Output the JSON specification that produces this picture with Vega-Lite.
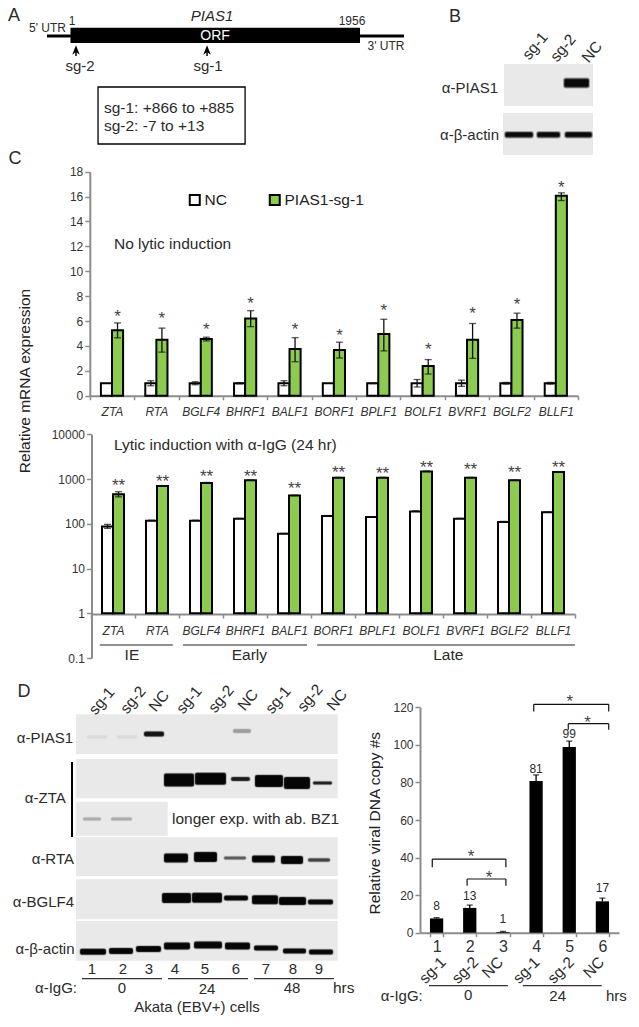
{
"$schema":"https://vega.github.io/schema/vega-lite/v6.json",
"background":"white","padding":0,"autosize":{"type":"none"},"width":639,"height":1027,
"config":{"font":"Liberation Sans","view":{"stroke":null},"text":{"color":"#2b2b2b"},"axis":{"grid":false,"domainColor":"#8c8c8c","domainWidth":2,"tickColor":"#8c8c8c","tickWidth":1.5,"labelColor":"#333333","labelFontSize":12,"titleColor":"#222222","titleFontWeight":"normal"}},
"datasets":{
"top":[
{"gene":"ZTA","series":"NC","value":1,"lo":1,"hi":1},{"gene":"ZTA","series":"PIAS1-sg-1","value":5.25,"lo":4.65,"hi":5.85,"star":6.62,"sig":"*"},
{"gene":"RTA","series":"NC","value":1,"lo":0.8,"hi":1.2},{"gene":"RTA","series":"PIAS1-sg-1","value":4.5,"lo":3.5,"hi":5.43,"star":6.49,"sig":"*"},
{"gene":"BGLF4","series":"NC","value":1,"lo":0.88,"hi":1.12},{"gene":"BGLF4","series":"PIAS1-sg-1","value":4.55,"lo":4.4,"hi":4.7,"star":5.63,"sig":"*"},
{"gene":"BHRF1","series":"NC","value":1,"lo":0.95,"hi":1.05},{"gene":"BHRF1","series":"PIAS1-sg-1","value":6.2,"lo":5.55,"hi":6.83,"star":7.69,"sig":"*"},
{"gene":"BALF1","series":"NC","value":1,"lo":0.8,"hi":1.2},{"gene":"BALF1","series":"PIAS1-sg-1","value":3.75,"lo":2.73,"hi":4.66,"star":5.6,"sig":"*"},
{"gene":"BORF1","series":"NC","value":1,"lo":1,"hi":1},{"gene":"BORF1","series":"PIAS1-sg-1","value":3.67,"lo":3.03,"hi":4.3,"star":5.15,"sig":"*"},
{"gene":"BPLF1","series":"NC","value":1,"lo":0.97,"hi":1.03},{"gene":"BPLF1","series":"PIAS1-sg-1","value":4.96,"lo":3.6,"hi":6.14,"star":7.13,"sig":"*"},
{"gene":"BOLF1","series":"NC","value":1,"lo":0.7,"hi":1.3},{"gene":"BOLF1","series":"PIAS1-sg-1","value":2.39,"lo":1.74,"hi":2.9,"star":4.02,"sig":"*"},
{"gene":"BVRF1","series":"NC","value":1,"lo":0.75,"hi":1.25},{"gene":"BVRF1","series":"PIAS1-sg-1","value":4.5,"lo":3.0,"hi":5.8,"star":6.9,"sig":"*"},
{"gene":"BGLF2","series":"NC","value":1,"lo":0.93,"hi":1.07},{"gene":"BGLF2","series":"PIAS1-sg-1","value":6.08,"lo":5.43,"hi":6.63,"star":7.61,"sig":"*"},
{"gene":"BLLF1","series":"NC","value":1,"lo":0.93,"hi":1.07},{"gene":"BLLF1","series":"PIAS1-sg-1","value":16.07,"lo":15.68,"hi":16.3,"star":17.0,"sig":"*"}],
"bottom":[
{"gene":"ZTA","series":"NC","value":87,"lo":79,"hi":97},{"gene":"ZTA","series":"PIAS1-sg-1","value":457,"lo":400,"hi":520,"star":844,"sig":"**"},
{"gene":"RTA","series":"NC","value":117,"lo":115,"hi":120},{"gene":"RTA","series":"PIAS1-sg-1","value":700,"lo":690,"hi":715,"star":1036,"sig":"**"},
{"gene":"BGLF4","series":"NC","value":117,"lo":115,"hi":120},{"gene":"BGLF4","series":"PIAS1-sg-1","value":815,"lo":790,"hi":840,"star":1339,"sig":"**"},
{"gene":"BHRF1","series":"NC","value":129,"lo":126,"hi":132},{"gene":"BHRF1","series":"PIAS1-sg-1","value":935,"lo":915,"hi":955,"star":1381,"sig":"**"},
{"gene":"BALF1","series":"NC","value":60,"lo":59,"hi":61},{"gene":"BALF1","series":"PIAS1-sg-1","value":426,"lo":415,"hi":437,"star":724,"sig":"**"},
{"gene":"BORF1","series":"NC","value":150,"lo":147,"hi":153},{"gene":"BORF1","series":"PIAS1-sg-1","value":1070,"lo":1050,"hi":1090,"star":1668,"sig":"**"},
{"gene":"BPLF1","series":"NC","value":141,"lo":138,"hi":144},{"gene":"BPLF1","series":"PIAS1-sg-1","value":1070,"lo":1050,"hi":1090,"star":1610,"sig":"**"},
{"gene":"BOLF1","series":"NC","value":187,"lo":175,"hi":195},{"gene":"BOLF1","series":"PIAS1-sg-1","value":1480,"lo":1450,"hi":1510,"star":2121,"sig":"**"},
{"gene":"BVRF1","series":"NC","value":129,"lo":126,"hi":132},{"gene":"BVRF1","series":"PIAS1-sg-1","value":1070,"lo":1050,"hi":1090,"star":1945,"sig":"**"},
{"gene":"BGLF2","series":"NC","value":110,"lo":107,"hi":113},{"gene":"BGLF2","series":"PIAS1-sg-1","value":935,"lo":915,"hi":955,"star":1642,"sig":"**"},
{"gene":"BLLF1","series":"NC","value":181,"lo":177,"hi":185},{"gene":"BLLF1","series":"PIAS1-sg-1","value":1430,"lo":1400,"hi":1460,"star":2121,"sig":"**"}],
"dna":[
{"lane":"1","value":7.6,"hi":8.0,"label":"8","labelAt":14.2},
{"lane":"2","value":13.2,"hi":14.7,"label":"13","labelAt":19.5},
{"lane":"3","value":0.4,"hi":0.7,"label":"1","labelAt":7.1},
{"lane":"4","value":80.7,"hi":84,"label":"81","labelAt":87.2},
{"lane":"5","value":98.8,"hi":102,"label":"99","labelAt":105.6},
{"lane":"6","value":16.7,"hi":18.4,"label":"17","labelAt":23.6}],
"blotsD":[
{"s":7.6,"e":33.77,"t":5.63,"b":9.6},{"s":7.6,"e":33.77,"t":10.1,"b":14.03},{"s":7.6,"e":16.77,"t":14.37,"b":17.77},{"s":7.6,"e":33.77,"t":17.93,"b":21.8},{"s":7.6,"e":33.77,"t":22.13,"b":26.13},{"s":7.6,"e":33.77,"t":26.3,"b":30.27}],
"bandsD":[
{"s":14.4,"e":16.4,"t":7.35,"b":7.85,"d":0.95},{"s":8.7,"e":10.7,"t":7.75,"b":8.05,"d":0.06},{"s":11.7,"e":13.7,"t":7.75,"b":8.05,"d":0.06},{"s":23.3,"e":25.1,"t":7.1,"b":7.5,"d":0.3},
{"s":16.4,"e":19.4,"t":11.55,"b":12.85,"d":1},{"s":19.5,"e":22.6,"t":11.47,"b":12.67,"d":1},{"s":23.1,"e":25.0,"t":11.9,"b":12.3,"d":0.9},{"s":25.5,"e":28.3,"t":11.7,"b":12.9,"d":1},{"s":28.4,"e":31.0,"t":11.9,"b":13.1,"d":1},{"s":31.3,"e":33.2,"t":12.35,"b":12.65,"d":0.9},
{"s":8.3,"e":10.1,"t":15.95,"b":16.25,"d":0.25},{"s":11.1,"e":13.2,"t":15.95,"b":16.25,"d":0.25},
{"s":16.4,"e":18.8,"t":19.55,"b":20.45,"d":1},{"s":19.4,"e":21.7,"t":19.4,"b":20.4,"d":1},{"s":22.4,"e":24.6,"t":19.85,"b":20.15,"d":0.6},{"s":25.2,"e":27.5,"t":19.75,"b":20.45,"d":1},{"s":28.1,"e":30.3,"t":19.8,"b":20.6,"d":1},{"s":30.8,"e":33.0,"t":20.03,"b":20.38,"d":0.7},
{"s":16.2,"e":19.1,"t":23.5,"b":24.5,"d":1},{"s":19.2,"e":22.2,"t":23.47,"b":24.47,"d":1},{"s":22.4,"e":24.8,"t":23.75,"b":24.25,"d":1},{"s":25.2,"e":27.8,"t":23.72,"b":24.62,"d":1},{"s":27.9,"e":30.6,"t":23.9,"b":24.7,"d":1},{"s":30.8,"e":33.3,"t":24.15,"b":24.65,"d":1},
{"s":8.0,"e":10.6,"t":29.07,"b":29.67,"d":1},{"s":10.9,"e":13.3,"t":29.0,"b":29.6,"d":1},{"s":13.6,"e":16.1,"t":28.8,"b":29.4,"d":1},{"s":16.4,"e":19.0,"t":28.45,"b":29.15,"d":1},{"s":19.4,"e":22.2,"t":28.35,"b":29.05,"d":1},{"s":22.5,"e":25.0,"t":28.45,"b":29.15,"d":1},{"s":25.4,"e":27.8,"t":28.75,"b":29.25,"d":1},{"s":28.3,"e":30.6,"t":29.05,"b":29.55,"d":1},{"s":30.9,"e":33.3,"t":29.15,"b":29.65,"d":1}]
},
"resolve":{"scale":{"x":"independent","y":"independent","fill":"independent","xOffset":"independent"}},
"layer":[
{
"encoding":{"x":{"type":"quantitative","scale":{"domain":[-475,2361],"range":[0,420],"nice":false,"zero":false},"axis":null},"y":{"type":"quantitative","scale":{"domain":[17.17,0],"range":[171.7,0],"nice":false,"zero":false},"axis":null}},
"layer":[
{"data":{"values":[{"s":-158,"e":4,"y":3.6},{"s":1956,"e":2253,"y":3.6}]},"mark":{"type":"rule","color":"black","strokeWidth":3},"encoding":{"x":{"field":"s"},"x2":{"field":"e"},"y":{"field":"y"}}},
{"data":{"values":[{"s":1,"e":1956,"t":2.77,"b":4.3}]},"mark":{"type":"rect","color":"black"},"encoding":{"x":{"field":"s"},"x2":{"field":"e"},"y":{"field":"t"},"y2":{"field":"b"}}},
{"data":{"values":[{"s":187,"e":1180,"t":8.7,"b":14.4}]},"mark":{"type":"rect","fill":"white","stroke":"black","strokeWidth":1.3},"encoding":{"x":{"field":"s"},"x2":{"field":"e"},"y":{"field":"t"},"y2":{"field":"b"}}},
{"data":{"values":[{"n":38,"t":4.9,"b":5.6},{"n":923,"t":4.9,"b":5.6}]},"mark":{"type":"rule","color":"black","strokeWidth":1.5},"encoding":{"x":{"field":"n"},"y":{"field":"t"},"y2":{"field":"b"}}},
{"data":{"values":[{"n":38,"y":5.03},{"n":923,"y":5.03}]},"mark":{"type":"point","shape":"M0,-1L0.75,0.9L0,0.35L-0.75,0.9Z","filled":true,"fill":"black","opacity":1,"size":100},"encoding":{"x":{"field":"n"},"y":{"field":"y"}}},
{"data":{"values":[{"n":-381,"y":1.6,"t":"A"},{"n":-374,"y":15.9,"t":"C"}]},"mark":{"type":"text","fontSize":18},"encoding":{"x":{"field":"n"},"y":{"field":"y"},"text":{"field":"t"}}},
{"data":{"values":[{"n":-154,"y":2.8,"t":"5' UTR"},{"n":11,"y":2.1,"t":"1"},{"n":1902,"y":2.1,"t":"1956"},{"n":2131,"y":4.6,"t":"3' UTR"}]},"mark":{"type":"text","fontSize":12},"encoding":{"x":{"field":"n"},"y":{"field":"y"},"text":{"field":"t"}}},
{"data":{"values":[{"n":957,"y":1.6,"t":"PIAS1"}]},"mark":{"type":"text","fontSize":15,"fontStyle":"italic"},"encoding":{"x":{"field":"n"},"y":{"field":"y"},"text":{"field":"t"}}},
{"data":{"values":[{"n":977,"y":3.6,"t":"ORF"}]},"mark":{"type":"text","fontSize":14,"color":"white"},"encoding":{"x":{"field":"n"},"y":{"field":"y"},"text":{"field":"t"}}},
{"data":{"values":[{"n":65,"y":6.6,"t":"sg-2"},{"n":930,"y":6.6,"t":"sg-1"}]},"mark":{"type":"text","fontSize":15},"encoding":{"x":{"field":"n"},"y":{"field":"y"},"text":{"field":"t"}}},
{"data":{"values":[{"n":227,"y":10.75,"t":"sg-1: +866 to +885"},{"n":227,"y":12.6,"t":"sg-2: -7 to +13"}]},"mark":{"type":"text","fontSize":15.5,"align":"left"},"encoding":{"x":{"field":"n"},"y":{"field":"y"},"text":{"field":"t"}}}
]},
{
"encoding":{"x":{"type":"quantitative","scale":{"domain":[0,21.9],"range":[420,639],"nice":false,"zero":false},"axis":null},"y":{"type":"quantitative","scale":{"domain":[17.17,0],"range":[171.7,0],"nice":false,"zero":false},"axis":null}},
"layer":[
{"data":{"values":[{"s":8.4,"e":17.3,"t":6.4,"b":10.6},{"s":8.3,"e":17.3,"t":11.3,"b":15.5}]},"mark":{"type":"rect","fill":"#e9e9e9"},"encoding":{"x":{"field":"s"},"x2":{"field":"e"},"y":{"field":"t"},"y2":{"field":"b"}}},
{"data":{"values":[{"s":14.4,"e":16.9,"t":7.85,"b":8.75},{"s":8.5,"e":11.3,"t":13.2,"b":13.75},{"s":11.7,"e":14.0,"t":13.2,"b":13.75},{"s":14.5,"e":17.2,"t":13.2,"b":13.75}]},"mark":{"type":"rect","fill":"#0a0a0a","stroke":"#555555","strokeOpacity":0.5,"strokeWidth":2,"cornerRadius":2},"encoding":{"x":{"field":"s"},"x2":{"field":"e"},"y":{"field":"t"},"y2":{"field":"b"}}},
{"data":{"values":[{"x":3.5,"y":1.7,"t":"B"}]},"mark":{"type":"text","fontSize":18},"encoding":{"x":{"field":"x"},"y":{"field":"y"},"text":{"field":"t"}}},
{"data":{"values":[{"x":7.8,"y":8.8,"t":"α-PIAS1"},{"x":7.9,"y":13.5,"t":"α-β-actin"}]},"mark":{"type":"text","fontSize":15,"align":"right"},"encoding":{"x":{"field":"x"},"y":{"field":"y"},"text":{"field":"t"}}},
{"data":{"values":[{"x":11.5,"y":4.6,"t":"sg-1"},{"x":14.3,"y":4.8,"t":"sg-2"},{"x":17.2,"y":5.2,"t":"NC"}]},"mark":{"type":"text","fontSize":15.5,"angle":-50},"encoding":{"x":{"field":"x"},"y":{"field":"y"},"text":{"field":"t"}}}
]},
{
"layer":[
{"data":{"name":"top"},"layer":[
{"mark":{"type":"bar","stroke":"black","strokeWidth":2},"encoding":{"x":{"field":"gene","type":"nominal","sort":null,"title":null,"scale":{"range":[89.8,578],"paddingInner":0,"paddingOuter":0},"axis":{"orient":"bottom","offset":-631.3,"tickBand":"extent","labelAngle":0,"labelFontSize":12,"labelFontStyle":"italic","tickSize":4,"labelPadding":7,"labelOverlap":false}},"xOffset":{"field":"series","scale":{"paddingOuter":1,"paddingInner":0}},"y":{"field":"value","type":"quantitative","scale":{"domain":[0,18],"range":[395.7,171.7],"nice":false},"axis":{"orient":"left","offset":-89.8,"values":[0,2,4,6,8,10,12,14,16,18],"format":"d","title":"Relative mRNA expression","titleFontSize":15.5,"titleX":-57,"titleY":380.5,"tickSize":5}},"fill":{"field":"series","type":"nominal","scale":{"domain":["NC","PIAS1-sg-1"],"range":["white","#8ccb50"]},"legend":{"orient":"none","legendX":187,"legendY":192,"direction":"horizontal","title":null,"symbolType":"square","symbolSize":100,"symbolStrokeColor":"black","symbolStrokeWidth":2,"labelFontSize":15.5,"labelColor":"#222222","columnPadding":38,"labelOffset":2}}}},
{"transform":[{"filter":"datum.hi > datum.lo"}],"mark":{"type":"rule","color":"#111111","strokeWidth":1.3},"encoding":{"x":{"field":"gene","type":"nominal","sort":null},"xOffset":{"field":"series"},"y":{"field":"lo","type":"quantitative"},"y2":{"field":"hi"}}},
{"transform":[{"filter":"datum.hi > datum.lo"}],"mark":{"type":"tick","orient":"horizontal","size":7,"thickness":1.3,"color":"#111111"},"encoding":{"x":{"field":"gene","type":"nominal","sort":null},"xOffset":{"field":"series"},"y":{"field":"lo","type":"quantitative"}}},
{"transform":[{"filter":"datum.hi > datum.lo"}],"mark":{"type":"tick","orient":"horizontal","size":7,"thickness":1.3,"color":"#111111"},"encoding":{"x":{"field":"gene","type":"nominal","sort":null},"xOffset":{"field":"series"},"y":{"field":"hi","type":"quantitative"}}},
{"transform":[{"filter":"datum.sig != null"}],"mark":{"type":"text","fontSize":17,"dy":4,"color":"#444444"},"encoding":{"x":{"field":"gene","type":"nominal","sort":null},"xOffset":{"field":"series"},"y":{"field":"star","type":"quantitative"},"text":{"field":"sig"}}}
]},
{"data":{"values":[{"x":0.545,"y":12.17,"t":"No lytic induction"}]},"mark":{"type":"text","align":"left","fontSize":15.5},"encoding":{"x":{"field":"x","type":"quantitative","axis":null,"scale":{"domain":[0,11],"range":[89.8,578],"nice":false,"zero":false}},"y":{"field":"y","type":"quantitative"},"text":{"field":"t"}}}
],"resolve":{"scale":{"x":"independent"}}},
{
"layer":[
{"data":{"name":"bottom"},"layer":[
{"mark":{"type":"bar","stroke":"black","strokeWidth":2},"encoding":{"x":{"field":"gene","type":"nominal","sort":null,"title":null,"scale":{"range":[91,575],"paddingInner":0,"paddingOuter":0},"axis":{"orient":"bottom","offset":-413,"tickBand":"extent","labelAngle":0,"labelFontSize":12,"labelFontStyle":"italic","tickSize":4,"labelPadding":7,"labelOverlap":false}},"xOffset":{"field":"series","scale":{"paddingOuter":1,"paddingInner":0}},"y":{"field":"value","type":"quantitative","scale":{"type":"log","domain":[0.1,10000],"range":[658,434.3],"nice":false},"axis":{"orient":"left","offset":-91.5,"values":[0.1,1,10,100,1000,10000],"labelExpr":"''+datum.value","title":null,"tickSize":5}},"y2":{"datum":1},"fill":{"field":"series","type":"nominal","scale":{"domain":["NC","PIAS1-sg-1"],"range":["white","#8ccb50"]},"legend":null}}},
{"transform":[{"filter":"datum.gene=='ZTA'"}],"mark":{"type":"rule","color":"#111111","strokeWidth":1.3},"encoding":{"x":{"field":"gene","type":"nominal","sort":null},"xOffset":{"field":"series"},"y":{"field":"lo","type":"quantitative"},"y2":{"field":"hi"}}},
{"mark":{"type":"tick","orient":"horizontal","size":7,"thickness":1.3,"color":"#111111"},"encoding":{"x":{"field":"gene","type":"nominal","sort":null},"xOffset":{"field":"series"},"y":{"field":"hi","type":"quantitative"}}},
{"transform":[{"filter":"datum.gene=='ZTA'"}],"mark":{"type":"tick","orient":"horizontal","size":7,"thickness":1.3,"color":"#111111"},"encoding":{"x":{"field":"gene","type":"nominal","sort":null},"xOffset":{"field":"series"},"y":{"field":"lo","type":"quantitative"}}},
{"transform":[{"filter":"datum.sig != null"}],"mark":{"type":"text","fontSize":17,"dy":4,"color":"#444444"},"encoding":{"x":{"field":"gene","type":"nominal","sort":null},"xOffset":{"field":"series"},"y":{"field":"star","type":"quantitative"},"text":{"field":"sig"}}}
]},
{"data":{"values":[{"s":0.2,"e":1.86,"y":0.195},{"s":2.09,"e":4.91,"y":0.195},{"s":5.14,"e":11,"y":0.195}]},"mark":{"type":"rule","color":"#222222","strokeWidth":1.2},"encoding":{"x":{"field":"s","type":"quantitative","axis":null,"scale":{"domain":[0,11],"range":[91,575],"nice":false,"zero":false}},"x2":{"field":"e"},"y":{"field":"y","type":"quantitative"}}},
{"data":{"values":[{"x":0.93,"y":0.117,"t":"IE"},{"x":3.6,"y":0.117,"t":"Early"},{"x":8.12,"y":0.117,"t":"Late"}]},"mark":{"type":"text","fontSize":15.5},"encoding":{"x":{"field":"x","type":"quantitative","axis":null,"scale":{"domain":[0,11],"range":[91,575],"nice":false,"zero":false}},"y":{"field":"y","type":"quantitative"},"text":{"field":"t"}}},
{"data":{"values":[{"x":0.52,"y":5700,"t":"Lytic induction with α-IgG (24 hr)"}]},"mark":{"type":"text","fontSize":15.5,"align":"left"},"encoding":{"x":{"field":"x","type":"quantitative","axis":null,"scale":{"domain":[0,11],"range":[91,575],"nice":false,"zero":false}},"y":{"field":"y","type":"quantitative"},"text":{"field":"t"}}}
],"resolve":{"scale":{"x":"independent"}}},
{
"encoding":{"x":{"type":"quantitative","scale":{"domain":[0,35],"range":[0,350],"nice":false,"zero":false},"axis":null},"y":{"type":"quantitative","scale":{"domain":[36.9,0],"range":[1027,658],"nice":false,"zero":false},"axis":null}},
"layer":[
{"data":{"name":"blotsD"},"mark":{"type":"rect","fill":"#e9e9e9"},"encoding":{"x":{"field":"s"},"x2":{"field":"e"},"y":{"field":"t"},"y2":{"field":"b"}}},
{"data":{"name":"bandsD"},"mark":{"type":"rect","strokeOpacity":0.4,"strokeWidth":1.5,"cornerRadius":2},"encoding":{"x":{"field":"s"},"x2":{"field":"e"},"y":{"field":"t"},"y2":{"field":"b"},"fill":{"field":"d","type":"quantitative","scale":{"domain":[0,1],"range":["#e9e9e9","#050505"]},"legend":null},"stroke":{"field":"d","type":"quantitative","scale":{"domain":[0,1],"range":["#e9e9e9","#555555"]},"legend":null}}},
{"data":{"values":[{"x":7.2,"y":10.4,"y2":17.9}]},"mark":{"type":"rule","color":"black","strokeWidth":2},"encoding":{"x":{"field":"x"},"y":{"field":"y"},"y2":{"field":"y2"}}},
{"data":{"values":[{"s":8.2,"e":16.2,"y":32.07},{"s":16.8,"e":24.8,"y":32.07},{"s":25.4,"e":33.4,"y":32.07}]},"mark":{"type":"rule","color":"#333333","strokeWidth":1.2},"encoding":{"x":{"field":"s"},"x2":{"field":"e"},"y":{"field":"y"}}},
{"data":{"values":[{"x":2.4,"y":3.4,"t":"D"}]},"mark":{"type":"text","fontSize":18},"encoding":{"x":{"field":"x"},"y":{"field":"y"},"text":{"field":"t"}}},
{"data":{"values":[{"x":10.17,"y":4.3,"t":"sg-1"},{"x":13.3,"y":4.2,"t":"sg-2"},{"x":15.9,"y":4.3,"t":"NC"},{"x":18.9,"y":4.2,"t":"sg-1"},{"x":22.1,"y":4.1,"t":"sg-2"},{"x":24.8,"y":4.2,"t":"NC"},{"x":27.8,"y":4.2,"t":"sg-1"},{"x":31,"y":4.0,"t":"sg-2"},{"x":33.7,"y":4.2,"t":"NC"}]},"mark":{"type":"text","fontSize":15.5,"angle":-50},"encoding":{"x":{"field":"x"},"y":{"field":"y"},"text":{"field":"t"}}},
{"data":{"values":[{"x":7.3,"y":7.97,"t":"α-PIAS1"},{"x":6.57,"y":13.97,"t":"α-ZTA"},{"x":7.4,"y":20.1,"t":"α-RTA"},{"x":7.4,"y":24.4,"t":"α-BGLF4"},{"x":7.45,"y":29.1,"t":"α-β-actin"}]},"mark":{"type":"text","fontSize":15,"align":"right"},"encoding":{"x":{"field":"x"},"y":{"field":"y"},"text":{"field":"t"}}},
{"data":{"values":[{"x":17.2,"y":16.1,"t":"longer exp. with ab. BZ1"},{"x":33.3,"y":33.0,"t":"hrs"}]},"mark":{"type":"text","fontSize":15.5,"align":"left"},"encoding":{"x":{"field":"x"},"y":{"field":"y"},"text":{"field":"t"}}},
{"data":{"values":[{"x":9.2,"y":31.1,"t":"1"},{"x":12.3,"y":31.1,"t":"2"},{"x":14.9,"y":31.1,"t":"3"},{"x":17.5,"y":31.1,"t":"4"},{"x":20.5,"y":31.1,"t":"5"},{"x":23.6,"y":31.1,"t":"6"},{"x":26.6,"y":31.1,"t":"7"},{"x":29.3,"y":31.1,"t":"8"},{"x":31.9,"y":31.1,"t":"9"},{"x":5.6,"y":33.0,"t":"α-IgG:"},{"x":12.2,"y":33.0,"t":"0"},{"x":20.7,"y":33.1,"t":"24"},{"x":29.2,"y":33.0,"t":"48"},{"x":19.7,"y":34.9,"t":"Akata (EBV+) cells"}]},"mark":{"type":"text","fontSize":15},"encoding":{"x":{"field":"x"},"y":{"field":"y"},"text":{"field":"t"}}}
]},
{
"layer":[
{"data":{"name":"dna"},"layer":[
{"mark":{"type":"bar","color":"black"},"encoding":{"x":{"field":"lane","type":"nominal","title":null,"scale":{"range":[420,619],"paddingInner":0.6,"paddingOuter":0.3},"axis":{"orient":"bottom","offset":-94.3,"tickBand":"extent","labelAngle":0,"labelFontSize":16,"labelPadding":2,"tickSize":4}},"y":{"field":"value","type":"quantitative","scale":{"domain":[0,120],"range":[932.7,707.3],"nice":false},"axis":{"orient":"left","offset":-420,"values":[0,20,40,60,80,100,120],"title":"Relative viral DNA copy #s","titleFontSize":15.5,"titleX":-38,"titleY":822.7,"tickSize":5}}}},
{"mark":{"type":"rule","color":"black","strokeWidth":1.3},"encoding":{"x":{"field":"lane","type":"nominal"},"y":{"field":"value","type":"quantitative"},"y2":{"field":"hi"}}},
{"mark":{"type":"tick","orient":"horizontal","size":6,"thickness":1.3,"color":"black"},"encoding":{"x":{"field":"lane","type":"nominal"},"y":{"field":"hi","type":"quantitative"}}},
{"mark":{"type":"text","fontSize":12},"encoding":{"x":{"field":"lane","type":"nominal"},"y":{"field":"labelAt","type":"quantitative"},"text":{"field":"label"}}}
]},
{"data":{"values":[
{"s":3.43,"e":5.69,"a":121.6,"b":121.6},{"s":3.43,"e":3.43,"a":121.6,"b":117.7},{"s":5.69,"e":5.69,"a":121.6,"b":117.7},
{"s":4.47,"e":5.69,"a":111.3,"b":111.3},{"s":4.47,"e":4.47,"a":111.3,"b":108},{"s":5.69,"e":5.69,"a":111.3,"b":108},
{"s":0.37,"e":2.59,"a":39.2,"b":39.2},{"s":0.37,"e":0.37,"a":39.2,"b":34.8},{"s":2.59,"e":2.59,"a":39.2,"b":34.8},
{"s":1.42,"e":2.59,"a":28.6,"b":28.6},{"s":1.42,"e":1.42,"a":28.6,"b":25},{"s":2.59,"e":2.59,"a":28.6,"b":25}]},
"mark":{"type":"rule","color":"#111111","strokeWidth":1.2},"encoding":{"x":{"field":"s","type":"quantitative","axis":null,"scale":{"domain":[0,6],"range":[420,619],"nice":false,"zero":false}},"x2":{"field":"e"},"y":{"field":"a","type":"quantitative"},"y2":{"field":"b"}}},
{"data":{"values":[{"s":0.27,"e":2.65,"y":-28.2},{"s":3.1,"e":5.48,"y":-28.2}]},"mark":{"type":"rule","color":"#333333","strokeWidth":1.2},"encoding":{"x":{"field":"s","type":"quantitative","axis":null,"scale":{"domain":[0,6],"range":[420,619],"nice":false,"zero":false}},"x2":{"field":"e"},"y":{"field":"y","type":"quantitative"}}},
{"data":{"values":[{"x":4.52,"y":125,"t":"*"},{"x":5.05,"y":114,"t":"*"},{"x":1.54,"y":42.3,"t":"*"},{"x":2.08,"y":31.3,"t":"*"}]},"mark":{"type":"text","fontSize":17,"dy":4,"color":"#444444"},"encoding":{"x":{"field":"x","type":"quantitative","axis":null,"scale":{"domain":[0,6],"range":[420,619],"nice":false,"zero":false}},"y":{"field":"y","type":"quantitative"},"text":{"field":"t"}}},
{"data":{"values":[{"x":0.38,"y":-20,"t":"sg-1"},{"x":1.36,"y":-20,"t":"sg-2"},{"x":2.19,"y":-18.5,"t":"NC"},{"x":3.21,"y":-20,"t":"sg-1"},{"x":4.25,"y":-20,"t":"sg-2"},{"x":5.24,"y":-18.5,"t":"NC"}]},"mark":{"type":"text","fontSize":15.5,"angle":-45},"encoding":{"x":{"field":"x","type":"quantitative","axis":null,"scale":{"domain":[0,6],"range":[420,619],"nice":false,"zero":false}},"y":{"field":"y","type":"quantitative"},"text":{"field":"t"}}},
{"data":{"values":[{"x":-0.55,"y":-33.5,"t":"α-IgG:"},{"x":1.45,"y":-33,"t":"0"},{"x":4.15,"y":-33.5,"t":"24"},{"x":5.92,"y":-33.5,"t":"hrs"}]},"mark":{"type":"text","fontSize":15},"encoding":{"x":{"field":"x","type":"quantitative","axis":null,"scale":{"domain":[0,6],"range":[420,619],"nice":false,"zero":false}},"y":{"field":"y","type":"quantitative"},"text":{"field":"t"}}}
],"resolve":{"scale":{"x":"independent"}}}
]
}
